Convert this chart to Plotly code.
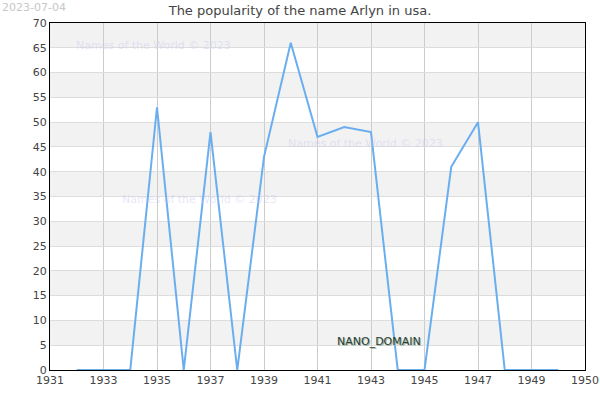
import plotly.graph_objs as go

years = list(range(1932, 1951))
counts = [0, 0, 0, 53, 0, 48, 0, 43, 66, 47, 49, 48, 0, 0, 41, 50, 0, 0, 0]

x_tickvals = [1931, 1933, 1935, 1937, 1939, 1941, 1943, 1945, 1947, 1949, 1951]
x_ticktext = ["1931", "1933", "1935", "1937", "1939", "1941", "1943", "1945", "1947", "1949", "1950"]
y_ticks = list(range(0, 75, 5))

title = "The popularity of the name Arlyn in usa."
stamp = "2023-07-04"
watermark = "Names of the World \u00a9 2023"
watermark_pos = [(0.193, 0.934), (0.589, 0.654), (0.28, 0.49)]

font = "DejaVu Sans"

trace = go.Scatter(x=years, y=counts, mode="lines", showlegend=False,
                   line=dict(color="#6aaef0", width=2))

# alternating grey bands behind the plot
shapes = []
for lo in range(5, 70, 10):
    shapes.append(dict(type="rect", xref="paper", yref="y", x0=0, x1=1, y0=lo, y1=lo + 5,
                       fillcolor="#f2f2f2", line=dict(width=0), layer="below"))

annotations = [
    dict(text=stamp, xref="paper", yref="paper", x=-0.0935, y=1.046, xanchor="left", yanchor="middle",
         showarrow=False, font=dict(family=font, size=11, color="#c8c8c8")),
    dict(text="NANO_DOMAIN", xref="x", yref="y", x=1943.3, y=5.85, xanchor="center", yanchor="middle",
         showarrow=False, font=dict(family=font, size=11, color="#2b4034",
                                    shadow="1px 1px 0px #9fb5a5")),
]
for wx, wy in watermark_pos:
    annotations.append(dict(text=watermark, xref="paper", yref="paper", x=wx, y=wy,
                            xanchor="center", yanchor="middle", showarrow=False,
                            font=dict(family=font, size=11, color="rgba(200,200,240,0.45)")))

layout = go.Layout(
    width=600,
    height=400,
    margin=dict(l=50, r=15, t=23, b=30),
    paper_bgcolor="white",
    plot_bgcolor="white",
    title=dict(text=title, x=0.5, xanchor="center", y=0.975, yanchor="middle",
               font=dict(family=font, size=13, color="#444")),
    font=dict(family=font, size=11, color="#444"),
    xaxis=dict(range=[1931, 1951], tickvals=x_tickvals, ticktext=x_ticktext, automargin=False,
               showgrid=True, gridcolor="#cccccc", gridwidth=1, zeroline=False,
               showline=True, linecolor="black", linewidth=1, mirror=True, ticks=""),
    yaxis=dict(range=[0, 70], tickvals=y_ticks, showgrid=True, gridcolor="#dddddd", automargin=False,
               zeroline=False, showline=True, linecolor="black", linewidth=1, mirror=True,
               ticks=""),
    shapes=shapes,
    annotations=annotations,
    showlegend=False,
)

fig = go.Figure(data=[trace], layout=layout)
fig.write_html("out.html", config=dict(displayModeBar=False),
               post_script="document.body.style.margin='0';")
